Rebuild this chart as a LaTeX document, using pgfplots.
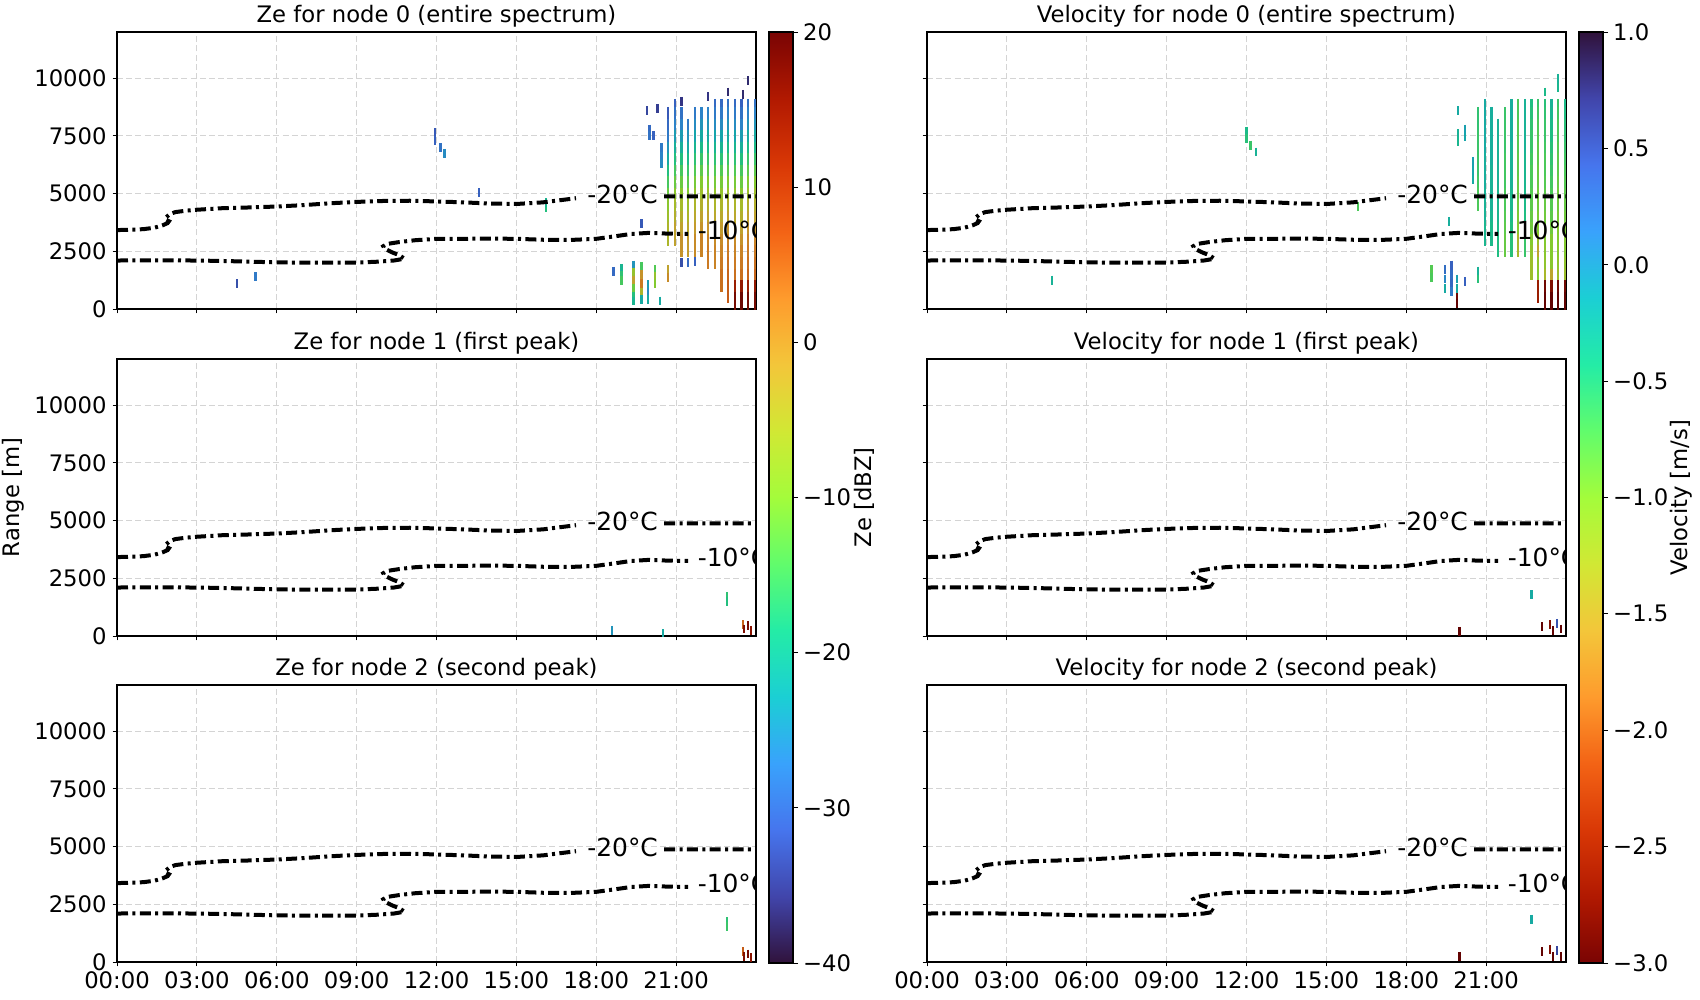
\documentclass[border=0pt]{standalone}
\usepackage{pgfplots}
\pgfplotsset{compat=1.18}
\usepackage{pgfplotstable}
\usepackage{fontspec}
\setmainfont{DejaVu Sans}

\pgfplotsset{
  colormap={turbo}{rgb255(0cm)=(48,18,59); rgb255(1cm)=(65,69,171); rgb255(2cm)=(70,117,237); rgb255(3cm)=(57,162,252); rgb255(4cm)=(27,207,212); rgb255(5cm)=(36,236,166); rgb255(6cm)=(97,252,108); rgb255(7cm)=(164,252,59); rgb255(8cm)=(209,232,52); rgb255(9cm)=(243,198,58); rgb255(10cm)=(254,155,45); rgb255(11cm)=(243,99,21); rgb255(12cm)=(217,56,6); rgb255(13cm)=(177,25,1); rgb255(14cm)=(122,4,3)},
  colormap={turbor}{rgb255(0cm)=(122,4,3); rgb255(1cm)=(177,25,1); rgb255(2cm)=(217,56,6); rgb255(3cm)=(243,99,21); rgb255(4cm)=(254,155,45); rgb255(5cm)=(243,198,58); rgb255(6cm)=(209,232,52); rgb255(7cm)=(164,252,59); rgb255(8cm)=(97,252,108); rgb255(9cm)=(36,236,166); rgb255(10cm)=(27,207,212); rgb255(11cm)=(57,162,252); rgb255(12cm)=(70,117,237); rgb255(13cm)=(65,69,171); rgb255(14cm)=(48,18,59)},
}

% ---------------- temperature contours ----------------
\pgfplotstableread{
t h
0 3420
0.5 3430
1.0 3460
1.4 3520
1.7 3620
1.9 3720
1.95 3800
1.8 3880
1.85 3980
2.0 4120
2.2 4200
2.6 4260
3.0 4300
4.0 4370
5.0 4400
6.0 4440
7.0 4500
8.0 4580
9.0 4640
10.0 4680
11.0 4690
12.0 4660
13.0 4620
14.0 4570
15.0 4550
16.0 4620
17.24 4800
nan nan
20.55 4880
24 4880
}\ctwenty
\pgfplotstableread{
t h
0 2100
1 2110
3 2100
4 2080
5 2050
6 2020
7 2010
8 2010
9 2010
9.8 2050
10.4 2100
10.8 2180
10.6 2330
10.3 2470
10.05 2620
10.0 2720
10.15 2820
10.6 2900
11.2 2980
12.0 3040
13 3040
14 3050
15 3040
16 3000
17 2990
18 3040
18.7 3150
19.3 3250
20.0 3300
20.6 3270
21.45 3250
}\cten

% ---------------- Ze, node 0: profile columns (500 m bins) ----------------
\pgfplotstableread{
t h c
20.70 8250 -32
20.70 7750 -30
20.70 7250 -28
20.70 6750 -25
20.70 6250 -22
20.70 5750 -18
20.70 5250 -15
20.70 4750 -12
20.70 4250 -9
20.70 3750 -7
20.70 3250 -5
20.95 8600 -31
20.95 8250 -29
20.95 7750 -27
20.95 7250 -24
20.95 6750 -21
20.95 6250 -18
20.95 5750 -15
20.95 5250 -12
20.95 4750 -9
20.95 4250 -6
20.95 3750 -4
20.95 3250 -2
21.20 8250 -29
21.20 7750 -27
21.20 7250 -24
21.20 6750 -21
21.20 6250 -18
21.20 5750 -15
21.20 5250 -12
21.20 4750 -9
21.20 4250 -6
21.20 3750 -4
21.20 3250 -2
21.20 2750 0
21.45 7750 -28
21.45 7250 -25
21.45 6750 -22
21.45 6250 -19
21.45 5750 -16
21.45 5250 -13
21.45 4750 -10
21.45 4250 -7
21.45 3750 -5
21.45 3250 -3
21.45 2750 -1
21.70 8250 -28
21.70 7750 -26
21.70 7250 -23
21.70 6750 -20
21.70 6250 -17
21.70 5750 -14
21.70 5250 -11
21.70 4750 -8
21.70 4250 -5
21.70 3750 -3
21.70 3250 -1
21.70 2750 1
21.95 8250 -27
21.95 7750 -25
21.95 7250 -22
21.95 6750 -19
21.95 6250 -16
21.95 5750 -13
21.95 5250 -10
21.95 4750 -7
21.95 4250 -4
21.95 3750 -2
21.95 3250 0
21.95 2750 2
22.20 8250 -27
22.20 7750 -25
22.20 7250 -22
22.20 6750 -19
22.20 6250 -16
22.20 5750 -13
22.20 5250 -10
22.20 4750 -7
22.20 4250 -4
22.20 3750 -2
22.20 3250 0
22.20 2750 2
22.20 2250 3
22.45 8600 -30
22.45 8250 -28
22.45 7750 -26
22.45 7250 -23
22.45 6750 -20
22.45 6250 -17
22.45 5750 -14
22.45 5250 -11
22.45 4750 -8
22.45 4250 -5
22.45 3750 -3
22.45 3250 -1
22.45 2750 1
22.45 2250 2
22.70 8600 -30
22.70 8250 -28
22.70 7750 -26
22.70 7250 -23
22.70 6750 -20
22.70 6250 -17
22.70 5750 -14
22.70 5250 -11
22.70 4750 -8
22.70 4250 -5
22.70 3750 -3
22.70 3250 -1
22.70 2750 1
22.70 2250 2
22.70 1750 3
22.70 1250 4
22.95 8600 -29
22.95 8250 -27
22.95 7750 -25
22.95 7250 -22
22.95 6750 -19
22.95 6250 -16
22.95 5750 -13
22.95 5250 -10
22.95 4750 -7
22.95 4250 -4
22.95 3750 -2
22.95 3250 0
22.95 2750 2
22.95 2250 3
22.95 1750 4
22.95 1250 5
22.95 750 6
23.20 8600 -30
23.20 8250 -28
23.20 7750 -26
23.20 7250 -23
23.20 6750 -20
23.20 6250 -17
23.20 5750 -14
23.20 5250 -11
23.20 4750 -8
23.20 4250 -5
23.20 3750 -3
23.20 3250 -1
23.20 2750 1
23.20 2250 2
23.20 1750 3
23.20 1250 4
23.20 750 14
23.20 250 18
23.45 8600 -31
23.45 8250 -29
23.45 7750 -27
23.45 7250 -24
23.45 6750 -21
23.45 6250 -18
23.45 5750 -15
23.45 5250 -12
23.45 4750 -9
23.45 4250 -6
23.45 3750 -4
23.45 3250 -2
23.45 2750 0
23.45 2250 2
23.45 1750 3
23.45 1250 4
23.45 750 15
23.45 250 19
23.70 8600 -29
23.70 8250 -27
23.70 7750 -25
23.70 7250 -22
23.70 6750 -19
23.70 6250 -16
23.70 5750 -13
23.70 5250 -10
23.70 4750 -7
23.70 4250 -4
23.70 3750 -2
23.70 3250 0
23.70 2750 2
23.70 2250 3
23.70 1750 4
23.70 1250 5
23.70 750 14
23.70 250 18
23.95 8600 -29
23.95 8250 -27
23.95 7750 -25
23.95 7250 -22
23.95 6750 -19
23.95 6250 -16
23.95 5750 -13
23.95 5250 -10
23.95 4750 -7
23.95 4250 -4
23.95 3750 -2
23.95 3250 0
23.95 2750 2
23.95 2250 3
23.95 1750 4
23.95 1250 5
23.95 750 15
23.95 250 18
}\zeA
\pgfplotstableread{
t h c
4.5 1100 -33
5.2 1400 -28
11.95 7650 -32
11.95 7300 -31
12.15 7000 -29
12.3 6750 -26
13.6 5050 -31
16.1 4400 -18
16.1 4600 -20
18.65 1630 -30
18.95 1750 -20
18.95 1450 -17
18.95 1250 -15
19.4 1900 -25
19.4 1600 -8
19.4 1250 -2
19.4 900 -12
19.4 550 -18
19.4 350 -20
19.7 1850 -15
19.7 1500 0
19.7 1100 3
19.7 700 -5
19.7 400 -22
19.95 1050 -24
19.95 700 -26
19.95 400 -22
20.2 1700 -14
20.2 1400 -8
20.2 1100 -10
20.4 350 -22
20.7 1700 -2
20.7 1350 1
19.7 3700 -32
21.2 2000 -33
21.45 2000 -30
21.7 2050 -31
21.2 9000 -36
22.2 9200 -36
22.95 9400 -37
23.5 9300 -37
23.7 9900 -37
20.3 8700 -35
19.9 8600 -34
20.0 7800 -30
20.0 7500 -29
20.45 7000 -28
20.45 6600 -27
20.45 6300 -26
20.15 7500 -31
}\zeAs
\pgfplotstableread{
t h c
22.9 1700 -17
22.9 1500 -18
23.5 500 5
23.55 300 17
23.7 450 18
23.8 250 16
18.6 250 -25
20.5 100 -22
}\zeBs
\pgfplotstableread{
t h c
22.9 1750 -17
22.9 1550 -16
23.5 450 6
23.55 250 17
23.7 350 18
23.8 200 16
}\zeCs

% ---------------- Velocity, node 0 ----------------
\pgfplotstableread{
t h c
20.70 8250 -0.55
20.70 7750 -0.55
20.70 7250 -0.6
20.70 6750 -0.6
20.70 6250 -0.6
20.70 5750 -0.6
20.70 5250 -0.65
20.70 4750 -0.7
20.95 8600 -0.2
20.95 8250 -0.2
20.95 7750 -0.2
20.95 7250 -0.2
20.95 6750 -0.2
20.95 6250 -0.25
20.95 5750 -0.25
20.95 5250 -0.25
20.95 4750 -0.3
20.95 4250 -0.3
20.95 3750 -0.3
20.95 3250 -0.35
21.20 8250 -0.25
21.20 7750 -0.25
21.20 7250 -0.25
21.20 6750 -0.25
21.20 6250 -0.25
21.20 5750 -0.3
21.20 5250 -0.3
21.20 4750 -0.3
21.20 4250 -0.3
21.20 3750 -0.35
21.20 3250 -0.4
21.45 7750 -0.3
21.45 7250 -0.3
21.45 6750 -0.3
21.45 6250 -0.3
21.45 5750 -0.3
21.45 5250 -0.3
21.45 4750 -0.35
21.45 4250 -0.35
21.45 3750 -0.35
21.45 3250 -0.4
21.45 2750 -0.45
21.70 8250 -0.6
21.70 7750 -0.6
21.70 7250 -0.6
21.70 6750 -0.6
21.70 6250 -0.65
21.70 5750 -0.65
21.70 5250 -0.65
21.70 4750 -0.7
21.70 4250 -0.7
21.70 3750 -0.75
21.70 3250 -0.8
21.70 2750 -0.85
21.95 8600 -0.25
21.95 8250 -0.25
21.95 7750 -0.25
21.95 7250 -0.25
21.95 6750 -0.3
21.95 6250 -0.3
21.95 5750 -0.3
21.95 5250 -0.3
21.95 4750 -0.35
21.95 4250 -0.35
21.95 3750 -0.4
21.95 3250 -0.45
21.95 2750 -0.5
22.20 8600 -0.7
22.20 8250 -0.7
22.20 7750 -0.75
22.20 7250 -0.75
22.20 6750 -0.75
22.20 6250 -0.8
22.20 5750 -0.8
22.20 5250 -0.85
22.20 4750 -0.85
22.20 4250 -0.9
22.20 3750 -0.95
22.20 3250 -1.0
22.20 2750 -1.3
22.45 8600 -0.3
22.45 8250 -0.3
22.45 7750 -0.3
22.45 7250 -0.3
22.45 6750 -0.3
22.45 6250 -0.35
22.45 5750 -0.35
22.45 5250 -0.35
22.45 4750 -0.4
22.45 4250 -0.4
22.45 3750 -0.45
22.45 3250 -0.5
22.45 2750 -0.6
22.70 8600 -0.45
22.70 8250 -0.5
22.70 7750 -0.55
22.70 7250 -0.6
22.70 6750 -0.6
22.70 6250 -0.65
22.70 5750 -0.7
22.70 5250 -0.7
22.70 4750 -0.75
22.70 4250 -0.8
22.70 3750 -0.85
22.70 3250 -0.9
22.70 2750 -1.0
22.70 2250 -1.1
22.70 1750 -1.2
22.95 8600 -0.6
22.95 8250 -0.65
22.95 7750 -0.7
22.95 7250 -0.75
22.95 6750 -0.8
22.95 6250 -0.8
22.95 5750 -0.85
22.95 5250 -0.85
22.95 4750 -0.9
22.95 4250 -0.9
22.95 3750 -0.95
22.95 3250 -1.0
22.95 2750 -1.2
22.95 2250 -1.5
22.95 1750 -1.1
22.95 1250 -1.0
22.95 750 -2.6
23.20 8600 -0.5
23.20 8250 -0.55
23.20 7750 -0.6
23.20 7250 -0.6
23.20 6750 -0.65
23.20 6250 -0.7
23.20 5750 -0.7
23.20 5250 -0.75
23.20 4750 -0.8
23.20 4250 -0.85
23.20 3750 -0.9
23.20 3250 -0.95
23.20 2750 -1.0
23.20 2250 -1.05
23.20 1750 -1.1
23.20 1250 -1.3
23.20 750 -2.9
23.20 250 -3.0
23.45 8600 -0.3
23.45 8250 -0.35
23.45 7750 -0.4
23.45 7250 -0.45
23.45 6750 -0.5
23.45 6250 -0.55
23.45 5750 -0.6
23.45 5250 -0.65
23.45 4750 -0.7
23.45 4250 -0.75
23.45 3750 -0.8
23.45 3250 -0.9
23.45 2750 -1.0
23.45 2250 -1.0
23.45 1750 -1.05
23.45 1250 -1.5
23.45 750 -2.8
23.45 250 -3.0
23.70 8600 -0.6
23.70 8250 -0.65
23.70 7750 -0.7
23.70 7250 -0.7
23.70 6750 -0.75
23.70 6250 -0.8
23.70 5750 -0.8
23.70 5250 -0.85
23.70 4750 -0.9
23.70 4250 -0.9
23.70 3750 -0.95
23.70 3250 -1.0
23.70 2750 -1.0
23.70 2250 -1.05
23.70 1750 -1.1
23.70 1250 -1.2
23.70 750 -2.9
23.70 250 -3.0
23.95 8600 -0.4
23.95 8250 -0.45
23.95 7750 -0.5
23.95 7250 -0.55
23.95 6750 -0.6
23.95 6250 -0.65
23.95 5750 -0.7
23.95 5250 -0.75
23.95 4750 -0.8
23.95 4250 -0.85
23.95 3750 -0.9
23.95 3250 -0.95
23.95 2750 -1.0
23.95 2250 -1.0
23.95 1750 -1.1
23.95 1250 -1.2
23.95 750 -2.9
23.95 250 -3.0
}\vA
\pgfplotstableread{
t h c
4.7 1250 -0.3
12.0 7700 -0.4
12.0 7400 -0.5
12.15 7100 -0.6
12.35 6800 -0.3
16.2 4450 -0.7
19.6 3800 -0.25
18.95 1700 -0.75
18.95 1350 -0.7
19.45 1700 0.3
19.45 1300 0.1
19.45 900 -0.2
19.7 1900 0.4
19.7 1500 0.3
19.7 1100 0.35
19.7 750 0.2
19.9 1300 -0.1
19.9 900 -0.2
19.9 500 -2.9
19.9 250 -3.0
20.2 1200 0.4
20.7 1650 -0.3
20.7 1300 -0.5
19.95 8600 -0.2
19.95 7600 -0.3
19.95 7250 -0.35
20.2 7800 -0.1
20.2 7450 -0.15
20.5 6400 -0.1
20.5 6000 -0.15
20.5 5600 -0.2
23.7 10000 -0.3
23.7 9600 -0.35
23.2 9400 -0.4
}\vAs
\pgfplotstableread{
t h c
20.0 200 -3.0
22.7 1800 -0.2
23.1 400 -3.0
23.4 500 -2.8
23.5 250 -3.0
23.65 550 0.5
23.8 300 -3.0
}\vBs
\pgfplotstableread{
t h c
20.0 250 -3.0
22.7 1850 -0.2
23.1 450 -3.0
23.4 550 -2.8
23.5 250 -3.0
23.65 500 0.6
23.8 250 -3.0
}\vCs

\newcommand\fs{\fontsize{11.4}{13.7}\selectfont}
\pgfplotsset{
  panel/.style={
    scale only axis, width=319.5bp, height=138.5bp, anchor=north west,
    xmin=0, xmax=24, ymin=0, ymax=12000,
    xtick={0,3,...,21}, ytick={0,2500,5000,7500,10000},
    xticklabels={}, yticklabels={},
    scaled y ticks=false,
    clip marker paths=true,
    grid=major, major grid style={draw=black!17, dash pattern=on 3bp off 1.6bp, line width=0.55bp},
    tick align=outside, major tick length=2.2bp, tick style={black, line width=0.5bp},
    axis line style={line width=0.6bp},
    tick pos=left,
    title style={at={(0.5,1)}, anchor=base, yshift=-1.2bp, font=\fs, inner sep=0pt},
    yticklabel style={font=\fs, inner sep=0pt, xshift=-2.8bp},
    xticklabel style={font=\fs, inner sep=0pt, yshift=-2.3bp},
  },
  bottomrow/.style={xticklabels={00:00,03:00,06:00,09:00,12:00,15:00,18:00,21:00}},
  leftcol/.style={yticklabels={0,2500,5000,7500,10000}},
  ze/.style={colormap name=turbo, point meta min=-40, point meta max=20},
  vel/.style={colormap name=turbor, point meta min=-3, point meta max=1},
  cols/.style={scatter, only marks, mark=|, mark size=5.8bp, scatter src=explicit, mark options={line width=1.15bp}},
  specks/.style={scatter, only marks, mark=|, mark size=2.2bp, scatter src=explicit, mark options={line width=1.1bp}},
  cont/.style={black, line width=2bp, dash pattern=on 5.5bp off 2.2bp on 1.5bp off 2.2bp, unbounded coords=jump},
  cbar/.style={scale only axis, width=12bp, height=465.5bp, anchor=north west,
    xmin=0, xmax=1, xtick=\empty, ytick pos=right, yticklabel pos=right,
    tick align=outside, major tick length=2.5bp, tick style={black, line width=0.5bp},
    axis line style={line width=0.6bp}, axis on top,
    yticklabel style={font=\fs, inner sep=0pt, xshift=2.4bp},
  },
}
\newcommand\contours{%
  \addplot[cont] table[x=t,y=h] {\ctwenty};
  \addplot[cont] table[x=t,y=h] {\cten};
  \node[anchor=base west, inner sep=0pt, font=\fontsize{12.5}{15}\selectfont] at (axis cs:17.65,4560) {-20°C};
  \node[anchor=base west, inner sep=0pt, font=\fontsize{12.5}{15}\selectfont] at (axis cs:21.8,3000) {-10°C};
}

\begin{document}
\begin{tikzpicture}
% ---------- left column: Ze ----------
\begin{axis}[panel, ze, leftcol, at={(58.5bp,-16bp)}, title={Ze for node 0 (entire spectrum)}]
  \addplot[cols] table[x=t,y=h,meta=c] {\zeA};
  \addplot[specks] table[x=t,y=h,meta=c] {\zeAs};
  \contours
\end{axis}
\begin{axis}[panel, ze, leftcol, at={(58.5bp,-179.5bp)}, title={Ze for node 1 (first peak)},
  ylabel={Range [m]}, ylabel style={font=\fs, at={(axis description cs:-0.1628,0.5)}, anchor=center, inner sep=0pt}]
  \addplot[specks] table[x=t,y=h,meta=c] {\zeBs};
  \contours
\end{axis}
\begin{axis}[panel, ze, leftcol, bottomrow, at={(58.5bp,-342.5bp)}, title={Ze for node 2 (second peak)}]
  \addplot[specks] table[x=t,y=h,meta=c] {\zeCs};
  \contours
\end{axis}
% ---------- Ze colorbar ----------
\begin{axis}[cbar, at={(384.5bp,-16bp)}, ymin=-40, ymax=20, ytick={-40,-30,-20,-10,0,10,20},
  yticklabels={−40,−30,−20,−10,0,10,20}, colormap name=turbo, point meta min=-40, point meta max=20,
  ylabel={Ze [dBZ]}, ylabel style={font=\fs, at={(axis description cs:3.958,0.5)}, anchor=center, inner sep=0pt}]
  \addplot[surf, shader=interp, point meta=y, mesh/cols=2] coordinates {(0,-40) (1,-40) (0,20) (1,20)};
\end{axis}
% ---------- right column: Velocity ----------
\begin{axis}[panel, vel, at={(463.5bp,-16bp)}, title={Velocity for node 0 (entire spectrum)}]
  \addplot[cols] table[x=t,y=h,meta=c] {\vA};
  \addplot[specks] table[x=t,y=h,meta=c] {\vAs};
  \contours
\end{axis}
\begin{axis}[panel, vel, at={(463.5bp,-179.5bp)}, title={Velocity for node 1 (first peak)}]
  \addplot[specks] table[x=t,y=h,meta=c] {\vBs};
  \contours
\end{axis}
\begin{axis}[panel, vel, bottomrow, at={(463.5bp,-342.5bp)}, title={Velocity for node 2 (second peak)}]
  \addplot[specks] table[x=t,y=h,meta=c] {\vCs};
  \contours
\end{axis}
% ---------- Velocity colorbar ----------
\begin{axis}[cbar, at={(789.5bp,-16bp)}, ymin=-3, ymax=1, ytick={-3,-2.5,-2,-1.5,-1,-0.5,0,0.5,1},
  yticklabels={−3.0,−2.5,−2.0,−1.5,−1.0,−0.5,0.0,0.5,1.0}, colormap name=turbor, point meta min=-3, point meta max=1,
  ylabel={Velocity [m/s]}, ylabel style={font=\fs, at={(axis description cs:4.25,0.5)}, anchor=center, inner sep=0pt}]
  \addplot[surf, shader=interp, point meta=y, mesh/cols=2] coordinates {(0,-3) (1,-3) (0,1) (1,1)};
\end{axis}
\pgfresetboundingbox
\path[use as bounding box] (0,0) rectangle (850bp,-500bp);
\end{tikzpicture}
\end{document}
